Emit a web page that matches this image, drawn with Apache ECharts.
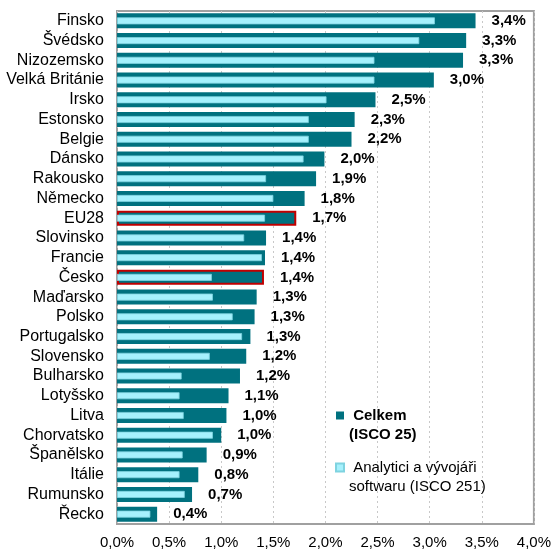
<!DOCTYPE html>
<html>
<head>
<meta charset="utf-8">
<script src="https://cdn.jsdelivr.net/npm/echarts@6/dist/echarts.min.js"></script>
<style>
  html, body { margin: 0; padding: 0; background: #fff; }
  #chart { width: 554px; height: 551px; }
</style>
</head>
<body>
<div id="chart"></div>
<script>
const categories = ['Finsko', 'Švédsko', 'Nizozemsko', 'Velká Británie', 'Irsko', 'Estonsko', 'Belgie', 'Dánsko',
  'Rakousko', 'Německo', 'EU28', 'Slovinsko', 'Francie', 'Česko', 'Maďarsko', 'Polsko', 'Portugalsko', 'Slovensko',
  'Bulharsko', 'Lotyšsko', 'Litva', 'Chorvatsko', 'Španělsko', 'Itálie', 'Rumunsko', 'Řecko']
// Celkem (ISCO 25), % zaměstnaných
const celkem = [3.44, 3.35, 3.32, 3.04, 2.48, 2.28, 2.25, 1.99, 1.91, 1.80, 1.72, 1.43, 1.42, 1.41, 1.34, 1.32, 1.28,
  1.24, 1.18, 1.07, 1.05, 1.00, 0.86, 0.78, 0.72, 0.385]
// Analytici a vývojáři softwaru (ISCO 251)
const software = [3.05, 2.90, 2.47, 2.47, 2.01, 1.84, 1.84, 1.79, 1.43, 1.50, 1.42, 1.22, 1.39, 0.91, 0.92, 1.11, 1.20,
  0.89, 0.62, 0.60, 0.64, 0.92, 0.63, 0.60, 0.65, 0.32]
const celkemLabels = ['3,4%', '3,3%', '3,3%', '3,0%', '2,5%', '2,3%', '2,2%', '2,0%', '1,9%', '1,8%', '1,7%', '1,4%',
  '1,4%', '1,4%', '1,3%', '1,3%', '1,3%', '1,2%', '1,2%', '1,1%', '1,0%', '1,0%', '0,9%', '0,8%', '0,7%', '0,4%']
const highlighted = ['EU28', 'Česko']
const xTicks = [0, 0.5, 1, 1.5, 2, 2.5, 3, 3.5, 4]

const seriesNames = ['Celkem', 'Analytici']
// prázdný první řádek -> ikonka legendy vychází na první řádek textu
const legendText = {
  'Celkem': '\n Celkem\n(ISCO 25)',
  'Analytici': '\n Analytici a vývojáři\nsoftwaru (ISCO 251)'
}

const font = 'Arial, "Liberation Sans", sans-serif'
const dark = '#00717f'
const light = '#a6f1fd'

const chart = echarts.init(document.getElementById('chart'))

// tmavé pruhy, EU28 a Česko s červeným rámečkem
const celkemData = celkem.map((v, i) => {
  if (highlighted.indexOf(categories[i]) >= 0) {
    return {value: v, itemStyle: {borderColor: '#c00000', borderWidth: 2}}
  }
  return v
})

const option = {
  animation: false,
  textStyle: {fontFamily: font},
  grid: {
    left: 117, right: 20, top: 11, bottom: 27,
    show: true, borderColor: '#a0a0a0', borderWidth: 2
  },
  legend: {
    orient: 'vertical',
    left: 330,
    top: 382,
    itemWidth: 8,
    itemHeight: 8,
    itemGap: -5,
    icon: 'rect',
    formatter: name => legendText[name],
    textStyle: {fontSize: 15, color: '#000', lineHeight: 19},
    data: [
      {name: seriesNames[0], textStyle: {fontWeight: 'bold'}},
      {name: seriesNames[1]}
    ]
  },
  xAxis: {
    type: 'value',
    min: xTicks[0],
    max: xTicks[xTicks.length - 1],
    interval: 0.5,
    axisLine: {show: false},
    axisTick: {show: false},
    axisLabel: {
      fontSize: 15, color: '#000', margin: 11,
      formatter: v => v.toFixed(1).replace('.', ',') + '%'
    },
    splitLine: {lineStyle: {color: '#c8c8c8', type: [2, 3], width: 1}}
  },
  yAxis: [
    {
      type: 'category',
      data: categories,
      inverse: true,
      axisLine: {show: false},
      axisTick: {show: false},
      axisLabel: {fontSize: 16, color: '#000', margin: 13, interval: 0}
    },
    {
      type: 'category',
      data: categories,
      inverse: true,
      show: false
    }
  ],
  series: [
    {
      name: seriesNames[0],
      type: 'bar',
      yAxisIndex: 0,
      barWidth: 15,
      data: celkemData,
      itemStyle: {color: dark},
      label: {
        show: true,
        position: 'right',
        distance: 16,
        fontSize: 15,
        fontWeight: 'bold',
        color: '#000',
        formatter: p => celkemLabels[p.dataIndex]
      }
    },
    {
      name: seriesNames[1],
      type: 'bar',
      yAxisIndex: 1,
      barWidth: 7,
      data: software,
      itemStyle: {color: light, borderColor: '#7fd3e0', borderWidth: 0.8}
    }
  ]
}

chart.setOption(option)
</script>
</body>
</html>
